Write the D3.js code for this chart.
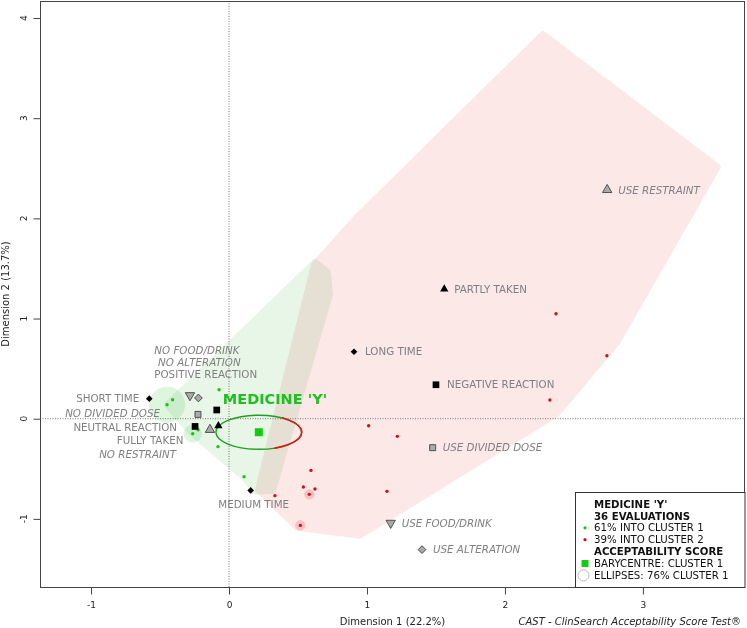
<!DOCTYPE html>
<html>
<head>
<meta charset="utf-8">
<script src="https://cdn.jsdelivr.net/npm/d3@7"></script>
<style>
  body { margin: 0; background: #fff; }
  svg { font-family: "DejaVu Sans", sans-serif; }
</style>
</head>
<body>
<div id="chart"></div>
<script>
/* CAST map - medicine 'Y' */

// individuals (dim1, dim2, number of evaluations at that spot)
var cluster1 = [
  [-0.072, 0.289, 1], [-0.409, 0.190, 1], [-0.449, 0.140, 13], [-0.263, -0.150, 4],
  [-0.225, -0.110, 1], [-0.080, -0.279, 1], [0.109, -0.579, 1]
];
var cluster2 = [
  [1.012, -0.070, 1], [1.220, -0.176, 1], [0.594, -0.516, 1], [0.539, -0.682, 1],
  [0.623, -0.702, 1], [0.582, -0.755, 2], [0.333, -0.768, 1], [1.145, -0.725, 1],
  [0.517, -1.065, 2], [2.326, 0.187, 1], [2.370, 1.048, 1], [2.739, 0.629, 1]
];

// active categories
var activeCats = [
  {name: "SHORT TIME", v: "time", x: -0.578, y: 0.200},
  {name: "MEDIUM TIME", v: "time", x: 0.157, y: -0.716},
  {name: "LONG TIME", v: "time", x: 0.906, y: 0.669},
  {name: "FULLY TAKEN", v: "taken", x: -0.077, y: -0.070},
  {name: "PARTLY TAKEN", v: "taken", x: 1.560, y: 1.294},
  {name: "POSITIVE REACTION", v: "reaction", x: -0.089, y: 0.087},
  {name: "NEUTRAL REACTION", v: "reaction", x: -0.246, y: -0.077},
  {name: "NEGATIVE REACTION", v: "reaction", x: 1.500, y: 0.339}
];

// supplementary categories
var suppCats = [
  {name: "NO FOOD/DRINK", v: "food", x: -0.283, y: 0.233},
  {name: "USE FOOD/DRINK", v: "food", x: 1.172, y: -1.041},
  {name: "NO ALTERATION", v: "alteration", x: -0.222, y: 0.207},
  {name: "USE ALTERATION", v: "alteration", x: 1.399, y: -1.307},
  {name: "NO DIVIDED DOSE", v: "dose", x: -0.225, y: 0.043},
  {name: "USE DIVIDED DOSE", v: "dose", x: 1.476, y: -0.289},
  {name: "NO RESTRAINT", v: "restraint", x: -0.138, y: -0.110},
  {name: "USE RESTRAINT", v: "restraint", x: 2.741, y: 2.285}
];

// cluster areas
var hull1 = [[-0.449, 0.140], [0.623, 1.567], [0.717, 1.467], [0.732, 1.238],
  [0.319, -0.719], [0.188, -0.729], [0.101, -0.579], [-0.283, -0.130]];
var hull2 = [[2.275, 3.842], [3.543, 2.515], [2.812, 0.758], [2.370, 0.040],
  [0.949, -1.168], [0.493, -1.088], [0.210, -0.709], [0.616, 1.537], [0.928, 2.016]];

// acceptability score
var medicine = "MEDICINE 'Y'";
var barycentre = [0.216, -0.135];
var ellipseRadii = [0.311, 0.170];
var ellipseShare = 76;

var xTicks = [-1, 0, 1, 2, 3];
var yTicks = [-1, 0, 1, 2, 3, 4];
var xTitle = "Dimension 1 (22.2%)";
var yTitle = "Dimension 2 (13.7%)";
var footnote = "CAST - ClinSearch Acceptability Score Test\u00AE";

// label placement (pixels from the symbol)
var labelPos = {
  "SHORT TIME": [-10, 0, "end"],
  "MEDIUM TIME": [3, 14, "middle"],
  "LONG TIME": [11, 0, "start"],
  "FULLY TAKEN": [-35, 15, "end"],
  "PARTLY TAKEN": [10, 0, "start"],
  "POSITIVE REACTION": [-11, -36, "middle"],
  "NEUTRAL REACTION": [-18, 1, "end"],
  "NEGATIVE REACTION": [11, 0, "start"],
  "NO FOOD/DRINK": [7, -45, "middle"],
  "USE FOOD/DRINK": [11, 0, "start"],
  "NO ALTERATION": [1, -36, "middle"],
  "USE ALTERATION": [11, 0, "start"],
  "NO DIVIDED DOSE": [-38, -1, "end"],
  "USE DIVIDED DOSE": [10, 0, "start"],
  "NO RESTRAINT": [-34, 25, "end"],
  "USE RESTRAINT": [11, 0, "start"]
};

var width = 747, height = 628;
var box = {left: 40, right: 745, top: 1, bottom: 587};

var x = d3.scaleLinear().domain([-1.37, 3.74]).range([box.left, box.right]);
var y = d3.scaleLinear().domain([-1.68, 4.17]).range([box.bottom, box.top]);

var svg = d3.select("#chart").append("svg")
    .attr("width", width)
    .attr("height", height);

var defs = svg.append("defs");
var hullLine = d3.line()
    .x(function(d) { return x(d[0]); })
    .y(function(d) { return y(d[1]); })
    .curve(d3.curveLinearClosed);

defs.append("clipPath").attr("id", "plotclip")
  .append("rect")
    .attr("x", box.left).attr("y", box.top)
    .attr("width", box.right - box.left).attr("height", box.bottom - box.top);
// red part of the ellipse: the middle of the overlap band onwards
defs.append("clipPath").attr("id", "red-zone")
  .append("path")
    .attr("d", hullLine(hull2))
    .attr("transform", "translate(6,0)");

var plot = svg.append("g").attr("clip-path", "url(#plotclip)");

// cluster areas, blended so the overlap turns beige
var areas = plot.append("g").style("isolation", "isolate");
areas.append("path")
    .attr("d", hullLine(hull2))
    .attr("fill", "#fde8e8")
    .attr("stroke", "#fde8e8")
    .attr("stroke-width", 6)
    .attr("stroke-linejoin", "round")
    .style("mix-blend-mode", "multiply");
areas.append("path")
    .attr("d", hullLine(hull1))
    .attr("fill", "#e8f6e8")
    .attr("stroke", "#e8f6e8")
    .attr("stroke-width", 6)
    .attr("stroke-linejoin", "round")
    .style("mix-blend-mode", "multiply");

// origin lines
plot.append("line")
    .attr("x1", x(0)).attr("x2", x(0))
    .attr("y1", box.top).attr("y2", box.bottom)
    .attr("stroke", "#777").attr("stroke-dasharray", "1,1.5");
plot.append("line")
    .attr("x1", box.left).attr("x2", box.right)
    .attr("y1", y(0)).attr("y2", y(0))
    .attr("stroke", "#777").attr("stroke-dasharray", "1,1.5");

// halos for repeated evaluations
function haloR(n) { return 5.2 * Math.sqrt(n - 1); }
plot.selectAll(".halo1")
    .data(cluster1.filter(function(d) { return d[2] > 1; }))
  .enter().append("circle")
    .attr("cx", function(d) { return x(d[0]); })
    .attr("cy", function(d) { return y(d[1]); })
    .attr("r", function(d) { return haloR(d[2]); })
    .attr("fill", "rgba(70,200,70,0.18)");
plot.selectAll(".halo2")
    .data(cluster2.filter(function(d) { return d[2] > 1; }))
  .enter().append("circle")
    .attr("cx", function(d) { return x(d[0]); })
    .attr("cy", function(d) { return y(d[1]); })
    .attr("r", function(d) { return haloR(d[2]); })
    .attr("fill", "rgba(235,80,80,0.25)");

// individuals
plot.selectAll(".ind1")
    .data(cluster1)
  .enter().append("circle")
    .attr("cx", function(d) { return x(d[0]); })
    .attr("cy", function(d) { return y(d[1]); })
    .attr("r", 1.7)
    .attr("fill", "#1fbf1f");
plot.selectAll(".ind2")
    .data(cluster2)
  .enter().append("circle")
    .attr("cx", function(d) { return x(d[0]); })
    .attr("cy", function(d) { return y(d[1]); })
    .attr("r", 1.7)
    .attr("fill", "#d0101a");

// acceptability ellipse: green part, red part inside cluster 2
var ell = {
  cx: x(barycentre[0]), cy: y(barycentre[1]),
  rx: x(barycentre[0] + ellipseRadii[0]) - x(barycentre[0]),
  ry: y(barycentre[1]) - y(barycentre[1] + ellipseRadii[1])
};
plot.append("ellipse")
    .attr("cx", ell.cx).attr("cy", ell.cy).attr("rx", ell.rx).attr("ry", ell.ry)
    .attr("fill", "none").attr("stroke", "#1f9f1f").attr("stroke-width", 1.4);
plot.append("ellipse")
    .attr("clip-path", "url(#red-zone)")
    .attr("cx", ell.cx).attr("cy", ell.cy).attr("rx", ell.rx).attr("ry", ell.ry)
    .attr("fill", "none").attr("stroke", "#d01f1f").attr("stroke-width", 1.6);

plot.append("rect")
    .attr("x", x(barycentre[0]) - 4).attr("y", y(barycentre[1]) - 4)
    .attr("width", 8).attr("height", 8)
    .attr("fill", "#11cc11");

// category symbols
var shapes = {
  time: {type: d3.symbolSquare, rot: 45, size: 22},
  taken: {type: d3.symbolTriangle, rot: 0, size: 30},
  reaction: {type: d3.symbolSquare, rot: 0, size: 45},
  food: {type: d3.symbolTriangle, rot: 180, size: 38},
  alteration: {type: d3.symbolSquare, rot: 45, size: 30},
  dose: {type: d3.symbolSquare, rot: 0, size: 36},
  restraint: {type: d3.symbolTriangle, rot: 0, size: 38}
};
function symPath(d) { return d3.symbol().type(shapes[d.v].type).size(shapes[d.v].size)(); }
function symPos(d) {
  return "translate(" + x(d.x) + "," + y(d.y) + ") rotate(" + shapes[d.v].rot + ")";
}

plot.selectAll(".supp")
    .data(suppCats)
  .enter().append("path")
    .attr("d", symPath)
    .attr("transform", symPos)
    .attr("fill", "#aaaaaa")
    .attr("stroke", "#444")
    .attr("stroke-width", 0.9);
plot.selectAll(".act")
    .data(activeCats)
  .enter().append("path")
    .attr("d", symPath)
    .attr("transform", symPos)
    .attr("fill", "#000");

// labels
function addLabels(data, italic) {
  svg.selectAll(null)
      .data(data)
    .enter().append("text")
      .attr("x", function(d) { return x(d.x) + labelPos[d.name][0]; })
      .attr("y", function(d) { return y(d.y) + labelPos[d.name][1]; })
      .attr("dy", "0.36em")
      .attr("text-anchor", function(d) { return labelPos[d.name][2]; })
      .attr("font-size", "10.3px")
      .attr("font-style", italic ? "italic" : "normal")
      .attr("fill", "#7f7f7f")
      .text(function(d) { return d.name; });
}
addLabels(activeCats, false);
addLabels(suppCats, true);

svg.append("text")
    .attr("x", x(barycentre[0]) - 36)
    .attr("y", y(barycentre[1]) - 33)
    .attr("dy", "0.36em")
    .attr("font-size", "14.5px")
    .attr("font-weight", "bold")
    .attr("fill", "#1fbf1f")
    .text(medicine);

// frame and axes
svg.append("rect")
    .attr("x", box.left + 0.5).attr("y", box.top + 0.5)
    .attr("width", box.right - box.left - 1).attr("height", box.bottom - box.top)
    .attr("fill", "none").attr("stroke", "#444");

var xAxis = svg.append("g")
    .attr("transform", "translate(0," + (box.bottom + 0.5) + ")")
    .call(d3.axisBottom(x).tickValues(xTicks).tickSize(7).tickPadding(7)
      .tickFormat(function(d) { return d; }));
xAxis.select(".domain").remove();
xAxis.selectAll("line").attr("stroke", "#444");
xAxis.selectAll("text").attr("font-size", "9px").attr("font-family", "DejaVu Sans").attr("fill", "#222");

var yAxis = svg.append("g")
    .attr("transform", "translate(" + (box.left + 0.5) + ",0)")
    .call(d3.axisLeft(y).tickValues(yTicks).tickSize(7).tickFormat(""));
yAxis.select(".domain").remove();
yAxis.selectAll("line").attr("stroke", "#444");
svg.selectAll(".ytl")
    .data(yTicks)
  .enter().append("text")
    .attr("transform", function(d) { return "translate(24," + y(d) + ") rotate(-90)"; })
    .attr("text-anchor", "middle")
    .attr("dy", "0.36em")
    .attr("font-size", "9px")
    .attr("fill", "#222")
    .text(function(d) { return d; });

svg.append("text")
    .attr("x", (box.left + box.right) / 2)
    .attr("y", 625)
    .attr("text-anchor", "middle")
    .attr("font-size", "10px")
    .attr("fill", "#222")
    .text(xTitle);
svg.append("text")
    .attr("transform", "translate(9," + ((box.top + box.bottom) / 2) + ") rotate(-90)")
    .attr("text-anchor", "middle")
    .attr("font-size", "10px")
    .attr("fill", "#222")
    .text(yTitle);
svg.append("text")
    .attr("x", 741)
    .attr("y", 625)
    .attr("text-anchor", "end")
    .attr("font-size", "10px")
    .attr("font-style", "italic")
    .attr("fill", "#222")
    .text(footnote);

// legend
var total = d3.sum(cluster1, function(d) { return d[2]; }) + d3.sum(cluster2, function(d) { return d[2]; });
var share1 = Math.round(100 * d3.sum(cluster1, function(d) { return d[2]; }) / total);
var share2 = 100 - share1;
var legendRows = [
  {text: medicine, bold: true},
  {text: total + " EVALUATIONS", bold: true},
  {text: share1 + "% INTO CLUSTER 1", key: "dot1"},
  {text: share2 + "% INTO CLUSTER 2", key: "dot2"},
  {text: "ACCEPTABILITY SCORE", bold: true},
  {text: "BARYCENTRE: CLUSTER 1", key: "square"},
  {text: "ELLIPSES: " + ellipseShare + "% CLUSTER 1", key: "ring"}
];
var lg = svg.append("g");
lg.append("rect")
    .attr("x", 575.5).attr("y", 492.5)
    .attr("width", box.right - 575.5).attr("height", box.bottom - 492)
    .attr("fill", "#fff").attr("stroke", "#333");
legendRows.forEach(function(r, i) {
  var ly = 504 + i * 11.9;
  lg.append("text")
      .attr("x", 594).attr("y", ly).attr("dy", "0.36em")
      .attr("font-size", "10.2px")
      .attr("font-weight", r.bold ? "bold" : "normal")
      .attr("fill", "#111")
      .text(r.text);
  if (r.key == "dot1" || r.key == "dot2") {
    lg.append("circle").attr("cx", 585).attr("cy", ly).attr("r", 1.6)
        .attr("fill", r.key == "dot1" ? "#1fbf1f" : "#d0101a");
  } else if (r.key == "square") {
    lg.append("rect").attr("x", 581.5).attr("y", ly - 3.5).attr("width", 7).attr("height", 7)
        .attr("fill", "#11cc11");
  } else if (r.key == "ring") {
    lg.append("circle").attr("cx", 583.5).attr("cy", ly).attr("r", 5.5)
        .attr("fill", "none").attr("stroke", "#bbb");
  }
});
</script>
</body>
</html>
